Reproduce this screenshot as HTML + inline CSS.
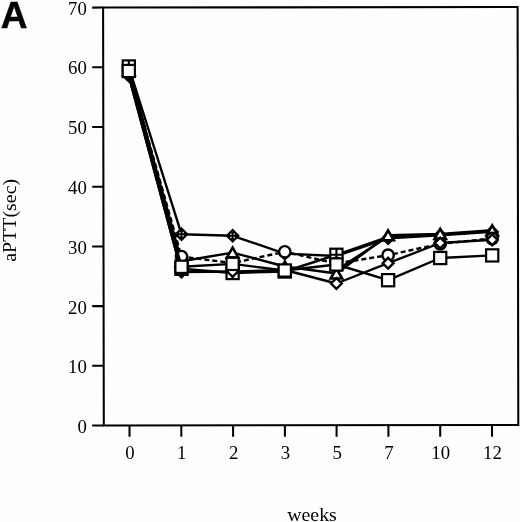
<!DOCTYPE html>
<html><head><meta charset="utf-8"><title>Chart A</title>
<style>html,body{margin:0;padding:0;background:#fff;}svg{display:block;filter:grayscale(1)}</style></head>
<body>
<svg width="520" height="522" viewBox="0 0 520 522">
<rect width="520" height="522" fill="#fefefd"/>
<g stroke="#000" stroke-width="2.05" fill="none" stroke-linecap="butt">
<path d="M103.8 425.5 L103.1 7.6 L517.6 7.0 L518.3 424.9 Z"/>
<path d="M92.2 425.52 L103.80 425.50"/>
<path d="M92.2 365.82 L103.70 365.80"/>
<path d="M92.2 306.12 L103.60 306.10"/>
<path d="M92.2 246.42 L103.50 246.40"/>
<path d="M92.2 186.72 L103.40 186.70"/>
<path d="M92.2 127.02 L103.30 127.00"/>
<path d="M92.2 67.32 L103.20 67.30"/>
<path d="M92.2 7.62 L103.10 7.60"/>
<path d="M129.5 425.46 L129.52 436.7"/>
<path d="M181.3 425.39 L181.32000000000002 436.7"/>
<path d="M233.1 425.31 L233.12 436.7"/>
<path d="M284.9 425.24 L284.91999999999996 436.7"/>
<path d="M336.6 425.16 L336.62 436.7"/>
<path d="M388.4 425.09 L388.41999999999996 436.7"/>
<path d="M440.2 425.01 L440.21999999999997 436.7"/>
<path d="M492.0 424.94 L492.02 436.7"/>
</g>
<g font-family="'Liberation Serif', serif" font-size="18.8" fill="#000">
<text x="86.9" y="433.0" text-anchor="end">0</text>
<text x="86.9" y="373.2" text-anchor="end">10</text>
<text x="86.9" y="313.5" text-anchor="end">20</text>
<text x="86.9" y="253.7" text-anchor="end">30</text>
<text x="86.9" y="193.9" text-anchor="end">40</text>
<text x="86.9" y="134.1" text-anchor="end">50</text>
<text x="86.9" y="74.4" text-anchor="end">60</text>
<text x="86.9" y="14.6" text-anchor="end">70</text>
<text x="130.0" y="458.6" text-anchor="middle">0</text>
<text x="181.8" y="458.6" text-anchor="middle">1</text>
<text x="233.6" y="458.6" text-anchor="middle">2</text>
<text x="285.4" y="458.6" text-anchor="middle">3</text>
<text x="337.1" y="458.6" text-anchor="middle">5</text>
<text x="388.9" y="458.6" text-anchor="middle">7</text>
<text x="440.7" y="458.6" text-anchor="middle">10</text>
<text x="492.5" y="458.6" text-anchor="middle">12</text>
<text transform="translate(312 520.9) scale(1.055 1)" text-anchor="middle">weeks</text>
<text transform="translate(16.4 220.3) rotate(-90) scale(1.06 1)" text-anchor="middle">aPTT(sec)</text>
</g>
<text x="0.7" y="27.6" font-family="'Liberation Sans', sans-serif" font-weight="bold" font-size="37" fill="#000" stroke="#000" stroke-width="0.5">A</text>
<polyline points="128.8,67 181.5,234.2 232.6,235.8 284.8,253.6 336.4,256 388.1,238.3 440.2,235.3 492.2,231.9" fill="none" stroke="#000" stroke-width="2.4" stroke-linejoin="round"/>
<polyline points="128.8,70 181.5,261.2 232.6,252.6 284.8,266.5 336.4,273.5 388.1,235.3 440.2,233.9 492.2,230.3" fill="none" stroke="#000" stroke-width="2.4" stroke-linejoin="round"/>
<polyline points="128.8,66.5 181.5,268.8 232.6,273 284.8,271.5 336.4,254.8 388.1,237 440.2,234.6 492.2,231.1" fill="none" stroke="#000" stroke-width="2.4" stroke-linejoin="round"/>
<polyline points="128.8,71 181.5,256.6 232.6,263 284.8,251.8 336.4,263.5 388.1,255.2 440.2,243.8 492.2,238.5" fill="none" stroke="#000" stroke-width="2.4" stroke-linejoin="round" stroke-dasharray="5 3"/>
<polyline points="128.8,76 181.5,272 232.6,271.5 284.8,270 336.4,283.5 388.1,263.2 440.2,243 492.2,239.8" fill="none" stroke="#000" stroke-width="2.4" stroke-linejoin="round"/>
<polyline points="128.8,71 181.5,266.8 232.6,263.9 284.8,270.5 336.4,264.5 388.1,280.2 440.2,258 492.2,255.4" fill="none" stroke="#000" stroke-width="2.4" stroke-linejoin="round"/>
<path d="M336.4 270.2 L388.1 236.4" fill="none" stroke="#000" stroke-width="2.4"/>
<path d="M128.8 59.75 L136.05 67 L128.8 74.25 L121.55000000000001 67 Z" fill="#000"/><rect x="126.40" y="64.60" width="1.5" height="1.5" fill="#ccc"/><rect x="126.40" y="67.90" width="1.5" height="1.5" fill="#ccc"/><rect x="129.70" y="64.60" width="1.5" height="1.5" fill="#ccc"/><rect x="129.70" y="67.90" width="1.5" height="1.5" fill="#ccc"/>
<path d="M181.5 226.95 L188.75 234.2 L181.5 241.45 L174.25 234.2 Z" fill="#000"/><rect x="179.10" y="231.80" width="1.5" height="1.5" fill="#ccc"/><rect x="179.10" y="235.10" width="1.5" height="1.5" fill="#ccc"/><rect x="182.40" y="231.80" width="1.5" height="1.5" fill="#ccc"/><rect x="182.40" y="235.10" width="1.5" height="1.5" fill="#ccc"/>
<path d="M232.6 228.55 L239.85 235.8 L232.6 243.05 L225.35 235.8 Z" fill="#000"/><rect x="230.20" y="233.40" width="1.5" height="1.5" fill="#ccc"/><rect x="230.20" y="236.70" width="1.5" height="1.5" fill="#ccc"/><rect x="233.50" y="233.40" width="1.5" height="1.5" fill="#ccc"/><rect x="233.50" y="236.70" width="1.5" height="1.5" fill="#ccc"/>
<path d="M284.8 246.35 L292.05 253.6 L284.8 260.85 L277.55 253.6 Z" fill="#000"/><rect x="282.40" y="251.20" width="1.5" height="1.5" fill="#ccc"/><rect x="282.40" y="254.50" width="1.5" height="1.5" fill="#ccc"/><rect x="285.70" y="251.20" width="1.5" height="1.5" fill="#ccc"/><rect x="285.70" y="254.50" width="1.5" height="1.5" fill="#ccc"/>
<path d="M336.4 248.75 L343.65 256 L336.4 263.25 L329.15 256 Z" fill="#000"/><rect x="334.00" y="253.60" width="1.5" height="1.5" fill="#ccc"/><rect x="334.00" y="256.90" width="1.5" height="1.5" fill="#ccc"/><rect x="337.30" y="253.60" width="1.5" height="1.5" fill="#ccc"/><rect x="337.30" y="256.90" width="1.5" height="1.5" fill="#ccc"/>
<path d="M388.1 231.05 L395.35 238.3 L388.1 245.55 L380.85 238.3 Z" fill="#000"/><rect x="385.70" y="235.90" width="1.5" height="1.5" fill="#ccc"/><rect x="385.70" y="239.20" width="1.5" height="1.5" fill="#ccc"/><rect x="389.00" y="235.90" width="1.5" height="1.5" fill="#ccc"/><rect x="389.00" y="239.20" width="1.5" height="1.5" fill="#ccc"/>
<path d="M440.2 228.05 L447.45 235.3 L440.2 242.55 L432.95 235.3 Z" fill="#000"/><rect x="437.80" y="232.90" width="1.5" height="1.5" fill="#ccc"/><rect x="437.80" y="236.20" width="1.5" height="1.5" fill="#ccc"/><rect x="441.10" y="232.90" width="1.5" height="1.5" fill="#ccc"/><rect x="441.10" y="236.20" width="1.5" height="1.5" fill="#ccc"/>
<path d="M492.2 224.65 L499.45 231.9 L492.2 239.15 L484.95 231.9 Z" fill="#000"/><rect x="489.80" y="229.50" width="1.5" height="1.5" fill="#ccc"/><rect x="489.80" y="232.80" width="1.5" height="1.5" fill="#ccc"/><rect x="493.10" y="229.50" width="1.5" height="1.5" fill="#ccc"/><rect x="493.10" y="232.80" width="1.5" height="1.5" fill="#ccc"/>
<path d="M128.8 65 L134.55 75 L123.05000000000001 75 Z" fill="#fff" stroke="#000" stroke-width="2.6" stroke-linejoin="miter"/>
<path d="M181.5 256.2 L187.25 266.2 L175.75 266.2 Z" fill="#fff" stroke="#000" stroke-width="2.6" stroke-linejoin="miter"/>
<path d="M232.6 247.6 L238.35 257.6 L226.85 257.6 Z" fill="#fff" stroke="#000" stroke-width="2.6" stroke-linejoin="miter"/>
<path d="M284.8 261.5 L290.55 271.5 L279.05 271.5 Z" fill="#fff" stroke="#000" stroke-width="2.6" stroke-linejoin="miter"/>
<path d="M336.4 268.5 L342.15 278.5 L330.65 278.5 Z" fill="#fff" stroke="#000" stroke-width="2.6" stroke-linejoin="miter"/>
<path d="M388.1 230.3 L393.85 240.3 L382.35 240.3 Z" fill="#fff" stroke="#000" stroke-width="2.6" stroke-linejoin="miter"/>
<path d="M440.2 228.9 L445.95 238.9 L434.45 238.9 Z" fill="#fff" stroke="#000" stroke-width="2.6" stroke-linejoin="miter"/>
<path d="M492.2 225.3 L497.95 235.3 L486.45 235.3 Z" fill="#fff" stroke="#000" stroke-width="2.6" stroke-linejoin="miter"/>
<rect x="122.70" y="60.40" width="12.2" height="12.2" fill="#fff" stroke="#000" stroke-width="2.2"/><path d="M122.70 66.5H134.90M128.8 60.40V72.60" stroke="#000" stroke-width="2.1"/>
<rect x="175.40" y="262.70" width="12.2" height="12.2" fill="#fff" stroke="#000" stroke-width="2.2"/><path d="M175.40 268.8H187.60M181.5 262.70V274.90" stroke="#000" stroke-width="2.1"/>
<rect x="226.50" y="266.90" width="12.2" height="12.2" fill="#fff" stroke="#000" stroke-width="2.2"/><path d="M226.50 273H238.70M232.6 266.90V279.10" stroke="#000" stroke-width="2.1"/>
<rect x="278.70" y="265.40" width="12.2" height="12.2" fill="#fff" stroke="#000" stroke-width="2.2"/><path d="M278.70 271.5H290.90M284.8 265.40V277.60" stroke="#000" stroke-width="2.1"/>
<rect x="330.30" y="248.70" width="12.2" height="12.2" fill="#fff" stroke="#000" stroke-width="2.2"/><path d="M330.30 254.8H342.50M336.4 248.70V260.90" stroke="#000" stroke-width="2.1"/>
<circle cx="128.8" cy="71" r="5.7" fill="#fff" stroke="#000" stroke-width="2.4"/>
<circle cx="181.5" cy="256.6" r="5.7" fill="#fff" stroke="#000" stroke-width="2.4"/>
<circle cx="232.6" cy="263" r="5.7" fill="#fff" stroke="#000" stroke-width="2.4"/>
<circle cx="284.8" cy="251.8" r="5.7" fill="#fff" stroke="#000" stroke-width="2.4"/>
<circle cx="336.4" cy="263.5" r="5.7" fill="#fff" stroke="#000" stroke-width="2.4"/>
<circle cx="388.1" cy="255.2" r="5.7" fill="#fff" stroke="#000" stroke-width="2.4"/>
<circle cx="440.2" cy="243.8" r="5.7" fill="#fff" stroke="#000" stroke-width="2.4"/>
<circle cx="492.2" cy="238.5" r="5.7" fill="#fff" stroke="#000" stroke-width="2.4"/>
<path d="M128.8 70.6 L134.20000000000002 76 L128.8 81.4 L123.4 76 Z" fill="#000" stroke="#000" stroke-width="2.4"/>
<path d="M181.5 266.6 L186.9 272 L181.5 277.4 L176.1 272 Z" fill="#000" stroke="#000" stroke-width="2.4"/>
<path d="M232.6 266.1 L238.0 271.5 L232.6 276.9 L227.2 271.5 Z" fill="#fff" stroke="#000" stroke-width="2.4"/>
<path d="M284.8 264.6 L290.2 270 L284.8 275.4 L279.40000000000003 270 Z" fill="#fff" stroke="#000" stroke-width="2.4"/>
<path d="M336.4 278.1 L341.79999999999995 283.5 L336.4 288.9 L331.0 283.5 Z" fill="#fff" stroke="#000" stroke-width="2.4"/>
<path d="M388.1 257.8 L393.5 263.2 L388.1 268.59999999999997 L382.70000000000005 263.2 Z" fill="#fff" stroke="#000" stroke-width="2.4"/>
<path d="M440.2 237.6 L445.59999999999997 243 L440.2 248.4 L434.8 243 Z" fill="#fff" stroke="#000" stroke-width="2.4"/>
<path d="M492.2 234.4 L497.59999999999997 239.8 L492.2 245.20000000000002 L486.8 239.8 Z" fill="#fff" stroke="#000" stroke-width="2.4"/>
<path d="M128.8 76 L181.5 272" fill="none" stroke="#000" stroke-width="2.4"/>
<path d="M128.8 71 L181.5 266.8" fill="none" stroke="#000" stroke-width="2.4"/>
<rect x="122.70" y="64.90" width="12.2" height="12.2" fill="#fff" stroke="#000" stroke-width="2.2"/>
<rect x="175.40" y="260.70" width="12.2" height="12.2" fill="#fff" stroke="#000" stroke-width="2.2"/>
<rect x="226.50" y="257.80" width="12.2" height="12.2" fill="#fff" stroke="#000" stroke-width="2.2"/>
<rect x="278.70" y="264.40" width="12.2" height="12.2" fill="#fff" stroke="#000" stroke-width="2.2"/>
<rect x="330.30" y="258.40" width="12.2" height="12.2" fill="#fff" stroke="#000" stroke-width="2.2"/>
<rect x="382.00" y="274.10" width="12.2" height="12.2" fill="#fff" stroke="#000" stroke-width="2.2"/>
<rect x="434.10" y="251.90" width="12.2" height="12.2" fill="#fff" stroke="#000" stroke-width="2.2"/>
<rect x="486.10" y="249.30" width="12.2" height="12.2" fill="#fff" stroke="#000" stroke-width="2.2"/>
</svg>
</body></html>
